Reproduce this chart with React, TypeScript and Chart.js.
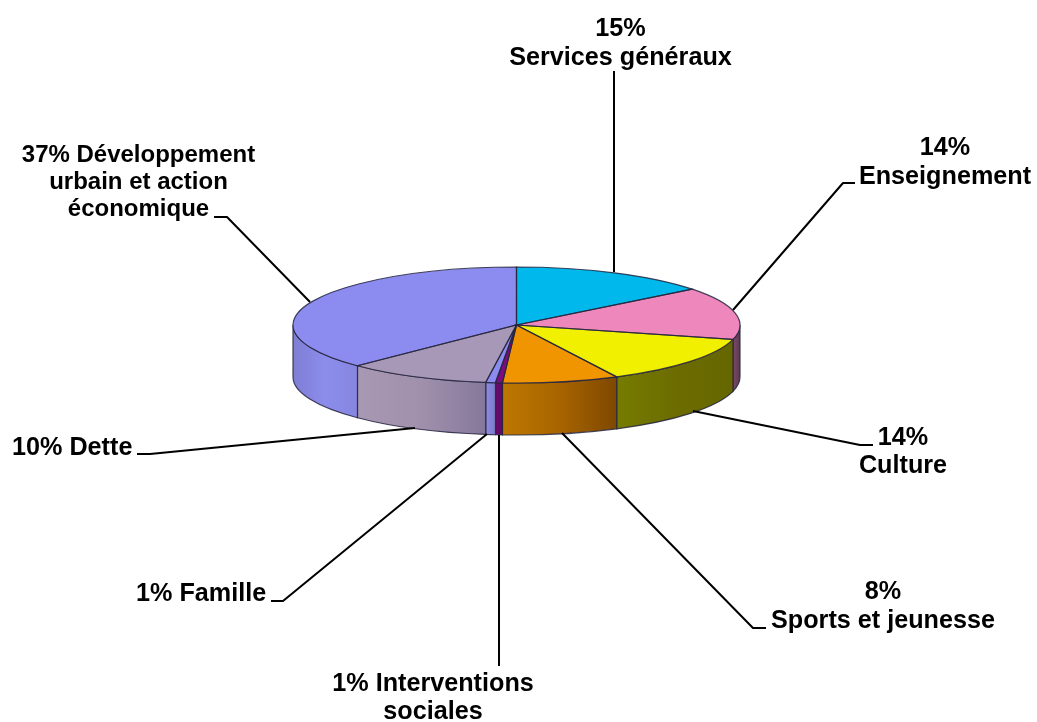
import React, { useEffect, useRef } from "react";
import { Chart, registerables } from "chart.js";

Chart.register(...registerables);

// Data
const categories = [
  "Services généraux",
  "Enseignement",
  "Culture",
  "Sports et jeunesse",
  "Interventions sociales",
  "Famille",
  "Dette",
  "Développement urbain et action économique",
];
const sliceValues = [14.4, 14.6, 13.6, 8.4, 0.5, 0.7, 10.4, 37.4];
const topColors = ["#00B8EB", "#EE88BC", "#F0F000", "#F09400", "#7B0B80", "#8C8CF0", "#A898B8", "#8C8CF0"];
const sideColors = [
  ["#007a9c", "#007a9c"],
  ["#7a4a66", "#5e3a50"],
  ["#767c00", "#6c6c00", "#666600"],
  ["#BD7800", "#A86400", "#7E4800"],
  ["#6A0A70", "#620866"],
  ["#8C8CE0", "#7C7CCC"],
  ["#A898B4", "#A090AC", "#85789A"],
  ["#7E7ED4", "#8C8CEC", "#8686E0"],
];
const labelLines = [
  ["15%", "Services généraux"],
  ["14%", "Enseignement"],
  ["14%", "Culture"],
  ["8%", "Sports et jeunesse"],
  ["1% Interventions", "sociales"],
  ["1% Famille"],
  ["10% Dette"],
  ["37% Développement", "urbain et action", "économique"],
];

// Layout of the annotations
const WIDTH = 1037;
const HEIGHT = 722;
const CENTER_X = 516.5;
const CENTER_Y = 325;
const RADIUS = 223.5;
const SQUASH = 58 / 223.5;
const DEPTH = 52;
const LINE_HEIGHT = 29;
const labelAnchors: { x: number; y: number; align: CanvasTextAlign; lh?: number; size?: number }[] = [
  { x: 620.5, y: 36, align: "center" },
  { x: 945, y: 155, align: "center" },
  { x: 903, y: 445, align: "center", lh: 28 },
  { x: 883, y: 599, align: "center" },
  { x: 433, y: 690.5, align: "center", lh: 28.5 },
  { x: 136, y: 601, align: "left" },
  { x: 12, y: 455, align: "left" },
  { x: 138.5, y: 162, align: "center", lh: 27, size: 24 },
];
const leaders = [
  [[614, 272], [614, 71]],
  [[733, 310], [843, 183], [855, 183]],
  [[693, 411], [860, 445], [873, 445]],
  [[562, 433], [753, 628], [766, 628]],
  [[499, 435], [499, 666]],
  [[487, 434], [283, 601], [271, 601]],
  [[415, 428], [150, 454], [137, 454]],
  [[310, 302], [227, 217], [214, 217]],
];

const OUTLINE = "rgba(38,38,62,0.85)";

const pie3d = {
  id: "pie3d",
  beforeDatasetsDraw(chart: any) {
    const ctx: CanvasRenderingContext2D = chart.ctx;
    const arcs = chart.getDatasetMeta(0).data;
    const first = arcs[0];
    const cx = first.x;
    const cy = first.y;
    const rx = first.outerRadius;
    const ry = rx * SQUASH;
    arcs.forEach((arc: any, i: number) => {
      const a0 = Math.max(arc.startAngle, 0);
      const a1 = Math.min(arc.endAngle, Math.PI);
      if (a1 <= a0) return;
      const x0 = cx + rx * Math.cos(a1);
      const x1 = cx + rx * Math.cos(a0);
      const g = ctx.createLinearGradient(x0, 0, x1, 0);
      sideColors[i].forEach((c, k, all) => g.addColorStop(k / (all.length - 1), c));
      ctx.beginPath();
      ctx.ellipse(cx, cy, rx, ry, 0, a0, a1);
      ctx.ellipse(cx, cy + DEPTH, rx, ry, 0, a1, a0, true);
      ctx.closePath();
      ctx.fillStyle = g;
      ctx.fill();
      ctx.strokeStyle = OUTLINE;
      ctx.lineWidth = 1.2;
      ctx.stroke();
    });
    ctx.save();
    ctx.translate(cx, cy);
    ctx.scale(1, SQUASH);
    ctx.translate(-cx, -cy);
  },
  afterDatasetsDraw(chart: any) {
    const ctx: CanvasRenderingContext2D = chart.ctx;
    ctx.restore();
    const arcs = chart.getDatasetMeta(0).data;
    const { x: cx, y: cy, outerRadius: rx } = arcs[0];
    const ry = rx * SQUASH;
    arcs.forEach((arc: any) => {
      ctx.beginPath();
      ctx.moveTo(cx, cy);
      ctx.ellipse(cx, cy, rx, ry, 0, arc.startAngle, arc.endAngle);
      ctx.closePath();
      ctx.strokeStyle = OUTLINE;
      ctx.lineWidth = 1.2;
      ctx.stroke();
    });

    ctx.strokeStyle = "#000";
    ctx.lineWidth = 2;
    ctx.lineJoin = "round";
    leaders.forEach((pts) => {
      ctx.beginPath();
      pts.forEach(([x, y], i) => (i ? ctx.lineTo(x, y) : ctx.moveTo(x, y)));
      ctx.stroke();
    });

    ctx.fillStyle = "#000";
    ctx.textBaseline = "alphabetic";
    labelLines.forEach((lines, i) => {
      const a = labelAnchors[i];
      ctx.font = `bold ${a.size ?? 25.2}px "Liberation Sans", Arial, sans-serif`;
      ctx.textAlign = a.align;
      lines.forEach((t, k) => ctx.fillText(t, a.x, a.y + k * (a.lh ?? LINE_HEIGHT)));
    });
  },
};

export default function App() {
  const ref = useRef<HTMLCanvasElement>(null);
  useEffect(() => {
    if (!ref.current) return;
    const chart = new Chart(ref.current, {
      type: "pie",
      data: {
        labels: categories,
        datasets: [
          {
            data: sliceValues,
            backgroundColor: topColors,
            borderWidth: 0,
            clip: false,
          } as any,
        ],
      },
      options: {
        responsive: false,
        animation: false,
        layout: {
          padding: {
            left: CENTER_X - RADIUS,
            right: WIDTH - CENTER_X - RADIUS,
            top: CENTER_Y - RADIUS,
            bottom: HEIGHT - CENTER_Y - RADIUS,
          },
        },
        plugins: { legend: { display: false }, tooltip: { enabled: false } },
      },
      plugins: [pie3d],
    } as any);
    return () => chart.destroy();
  }, []);
  return (
    <canvas
      ref={ref}
      width={WIDTH}
      height={HEIGHT}
      style={{ position: "absolute", left: 0, top: 0, display: "block", background: "#fff" }}
    />
  );
}
